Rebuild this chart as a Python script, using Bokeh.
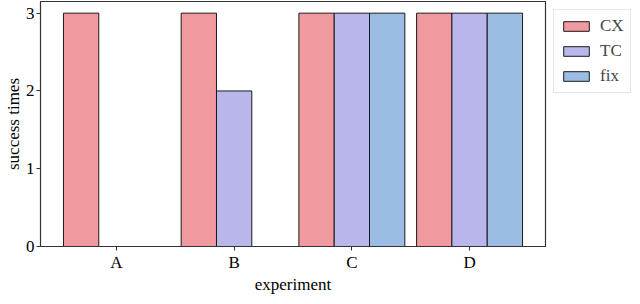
from bokeh.plotting import figure
from bokeh.models import ColumnDataSource, Range1d, FixedTicker, Legend, LegendItem
from bokeh.transform import dodge
from bokeh.embed import file_html
from bokeh.resources import INLINE

experiments = ["A", "B", "C", "D"]
cx_values = [3, 3, 3, 3]
tc_values = [0, 2, 3, 3]
fix_values = [0, 0, 3, 3]
series_names = ["CX", "TC", "fix"]
colors = ["#F0999F", "#B8B6EA", "#9BBDE3"]
y_ticks = [0, 1, 2, 3]

FONT = "Liberation Serif"

src = ColumnDataSource(dict(x=list(range(len(experiments))), cx=cx_values, tc=tc_values, fix=fix_values))

p = figure(frame_width=505, frame_height=245, output_backend="svg", toolbar_location=None,
           x_range=Range1d(-0.645, len(experiments) - 1 + 0.645),
           y_range=Range1d(0, 3.15),
           min_border_left=0, min_border_right=0, min_border_top=1, min_border_bottom=0)

bar_w = 0.3
renderers = []
for i, (col, name, color) in enumerate(zip(["cx", "tc", "fix"], series_names, colors)):
    r = p.vbar(x=dodge("x", (i - 1) * bar_w, range=p.x_range), top=col, bottom=0, width=bar_w,
               source=src, fill_color=color, line_color="#1a1a1a", line_width=1)
    renderers.append(r)

p.xgrid.visible = False
p.ygrid.visible = False
p.outline_line_color = "#333333"
p.outline_line_width = 1.2

p.xaxis.ticker = FixedTicker(ticks=list(range(len(experiments))))
p.xaxis.major_label_overrides = {i: e for i, e in enumerate(experiments)}
p.yaxis.ticker = FixedTicker(ticks=y_ticks)
p.xaxis.axis_label = "experiment"
p.yaxis.axis_label = "success times"
for ax in (p.xaxis[0], p.yaxis[0]):
    ax.axis_label_text_font = FONT
    ax.axis_label_text_font_style = "normal"
    ax.axis_label_text_font_size = "17px"
    ax.axis_label_text_color = "black"
    ax.major_label_text_font = FONT
    ax.major_label_text_font_size = "17px"
    ax.major_label_text_color = "black"
    ax.minor_tick_line_color = None
    ax.major_tick_in = 0
    ax.major_tick_out = 4
    ax.major_label_standoff = 2
    ax.axis_label_standoff = 0
    ax.axis_line_color = "#333333"
    ax.major_tick_line_color = "#333333"

legend = Legend(items=[LegendItem(label=n, renderers=[r]) for n, r in zip(series_names, renderers)],
                location="top_left", orientation="vertical",
                label_text_font=FONT, label_text_font_size="17px",
                glyph_width=32, glyph_height=12, label_standoff=8,
                spacing=5, padding=6, margin=8,
                border_line_color="#cccccc", border_line_width=1,
                background_fill_color="white", background_fill_alpha=1)
p.add_layout(legend, "right")

open("out.html", "w").write(file_html(p, INLINE))
